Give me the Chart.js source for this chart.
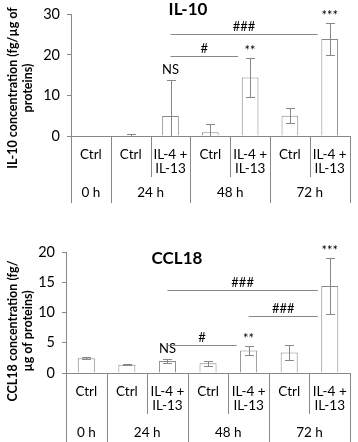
<!DOCTYPE html>
<html>
<head>
<meta charset="utf-8">
<script src="https://cdn.jsdelivr.net/npm/chart.js@4.4.1/dist/chart.umd.min.js"></script>
<style>
  html, body { margin: 0; padding: 0; background: #fff; }
  canvas { display: block; }
</style>
</head>
<body>
<canvas id="il10Chart" width="358" height="221"></canvas>
<canvas id="ccl18Chart" width="358" height="221"></canvas>
<script>
// shared categories
const categories = ["Ctrl", "Ctrl", ["IL-4 +", "IL-13"], "Ctrl", ["IL-4 +", "IL-13"], "Ctrl", ["IL-4 +", "IL-13"]];
const timeLabels = ["0 h", "24 h", "48 h", "72 h"];
const timeSpans = [1, 2, 2, 2];

// IL-10 (fg/µg of proteins)
const il10Values = [0.05, 0.2, 4.9, 0.9, 14.4, 5.0, 23.9];
const il10Errors = [0, 0.4, 9.0, 2.0, 4.8, 1.9, 4.0];
const il10Marks = ["", "", "NS", "", "**", "", "***"];
const il10BracketFrom = [2, 2];
const il10BracketTo = [4, 6];
const il10BracketLevel = [19.7, 25.2];
const il10BracketText = ["#", "###"];

// CCL18 (fg/µg of proteins)
const ccl18Values = [2.45, 1.35, 2.0, 1.6, 3.7, 3.4, 14.4];
const ccl18Errors = [0.2, 0.1, 0.35, 0.4, 0.75, 1.25, 4.6];
const ccl18Marks = ["", "", "NS", "", "**", "", "***"];
const ccl18BracketFrom = [2, 2, 4];
const ccl18BracketTo = [4, 6, 6];
const ccl18BracketLevel = [4.6, 13.8, 9.5];
const ccl18BracketText = ["#", "###", "###"];

const GRAY = "#888888";

Chart.defaults.font.family = "Lato";
Chart.defaults.color = "#000";

const decorPlugin = {
  id: "decor",
  afterDatasetsDraw(chart, args, o) {
    const {ctx, chartArea} = chart;
    const x = chart.scales.x;
    const y = chart.scales.y;
    const meta = chart.getDatasetMeta(0);
    const crisp = v => Math.round(v) + 0.5;

    ctx.save();
    ctx.strokeStyle = GRAY;
    ctx.lineWidth = 1;

    // error bars
    meta.data.forEach((bar, i) => {
      const v = o.values[i], e = o.errors[i];
      if (!e) return;
      const bx = crisp(bar.x);
      const top = crisp(y.getPixelForValue(v + e));
      const low = v - e;
      const bottom = crisp(y.getPixelForValue(Math.max(low, 0)));
      ctx.beginPath();
      ctx.moveTo(bx, top);
      ctx.lineTo(bx, bottom);
      ctx.moveTo(bx - 4.5, top);
      ctx.lineTo(bx + 4.5, top);
      if (low > 0) {
        ctx.moveTo(bx - 4.5, bottom);
        ctx.lineTo(bx + 4.5, bottom);
      }
      ctx.stroke();
    });

    ctx.fillStyle = "#000";
    ctx.font = "13px Lato";
    ctx.textAlign = "center";
    ctx.textBaseline = "alphabetic";

    // significance marks above bars
    meta.data.forEach((bar, i) => {
      const m = o.marks[i];
      if (!m) return;
      const top = y.getPixelForValue(o.values[i] + o.errors[i]);
      const isStar = m.indexOf("*") >= 0;
      ctx.fillText(m, bar.x, top - (isStar ? 3 : 6));
    });

    // comparison lines
    o.bracketFrom.forEach((from, k) => {
      const x1 = x.getPixelForValue(from);
      const x2 = x.getPixelForValue(o.bracketTo[k]) - 12;
      const ly = crisp(y.getPixelForValue(o.bracketLevel[k]));
      ctx.beginPath();
      ctx.moveTo(x1, ly);
      ctx.lineTo(x2, ly);
      ctx.stroke();
      ctx.fillText(o.bracketText[k], (x1 + x2) / 2, ly - 4);
    });

    // multi-level category table lines
    const base = chartArea.bottom;
    const longStops = [0];
    timeSpans.reduce((acc, n) => { longStops.push(acc + n); return acc + n; }, 0);
    for (let k = 0; k <= categories.length; k++) {
      const px = crisp(x.getPixelForValue(k - 0.5));
      const depth = longStops.includes(k) ? o.tableDepth : o.rowDepth;
      ctx.beginPath();
      ctx.moveTo(px, base);
      ctx.lineTo(px, base + depth);
      ctx.stroke();
    }

    // time group labels
    ctx.font = "13.5px Lato";
    ctx.textBaseline = "middle";
    timeLabels.forEach((t, g) => {
      const a = x.getPixelForValue(longStops[g] - 0.5);
      const b = x.getPixelForValue(longStops[g + 1] - 0.5);
      ctx.fillText(t, (a + b) / 2, base + o.groupDrop);
    });

    // chart title
    ctx.font = "bold 17px Lato";
    ctx.fillText(o.title, o.titleX, o.titleY);

    // rotated y-axis title
    ctx.font = "bold 12.5px Lato";
    o.yTitle.forEach((line, k) => {
      ctx.save();
      ctx.translate(o.yTitleX[k], o.yTitleY);
      ctx.rotate(-Math.PI / 2);
      ctx.fillText(line, 0, 0);
      ctx.restore();
    });

    ctx.restore();
  }
};

function makeChart(canvasId, values, errors, settings) {
  const canvas = document.getElementById(canvasId);
  const area = settings.area;
  return new Chart(canvas, {
    type: "bar",
    data: {
      labels: categories,
      datasets: [{
        data: values,
        backgroundColor: "#ffffff",
        borderColor: GRAY,
        borderWidth: 1,
        barPercentage: 0.42,
        categoryPercentage: 1.0
      }]
    },
    options: {
      responsive: false,
      animation: false,
      layout: {
        padding: { top: area.top, right: canvas.width - area.right, left: 0, bottom: 0 }
      },
      scales: {
        x: {
          grid: { display: true, drawOnChartArea: false, drawTicks: false },
          border: { color: GRAY },
          ticks: {
            padding: 11,
            maxRotation: 0,
            autoSkip: false,
            font: { size: 13.5, lineHeight: "14.5px" }
          },
          afterFit(scale) { scale.height = canvas.height - area.bottom; }
        },
        y: {
          min: 0,
          max: settings.yMax,
          ticks: {
            stepSize: settings.step,
            padding: 7,
            font: { size: 14.5, lineHeight: 1 }
          },
          grid: { drawOnChartArea: false, drawTicks: true, tickLength: 4, color: GRAY },
          border: { color: GRAY },
          afterFit(scale) { scale.width = area.left; }
        }
      },
      plugins: {
        legend: { display: false },
        tooltip: { enabled: false },
        decor: settings.decor
      }
    },
    plugins: [decorPlugin]
  });
}

makeChart("il10Chart", il10Values, il10Errors, {
  area: { left: 71, right: 353, top: 7, bottom: 136 },
  yMax: 30,
  step: 10,
  decor: {
    values: il10Values,
    errors: il10Errors,
    marks: il10Marks,
    bracketFrom: il10BracketFrom,
    bracketTo: il10BracketTo,
    bracketLevel: il10BracketLevel,
    bracketText: il10BracketText,
    rowDepth: 41,
    tableDepth: 67,
    groupDrop: 57,
    title: "IL-10",
    titleX: 188,
    titleY: 10,
    yTitle: ["IL-10 concentration (fg/µg of", "proteins)"],
    yTitleX: [13, 28],
    yTitleY: 88
  }
});

makeChart("ccl18Chart", ccl18Values, ccl18Errors, {
  area: { left: 66, right: 354, top: 31, bottom: 152 },
  yMax: 20,
  step: 5,
  decor: {
    values: ccl18Values,
    errors: ccl18Errors,
    marks: ccl18Marks,
    bracketFrom: ccl18BracketFrom,
    bracketTo: ccl18BracketTo,
    bracketLevel: ccl18BracketLevel,
    bracketText: ccl18BracketText,
    rowDepth: 41,
    tableDepth: 70,
    groupDrop: 60,
    title: "CCL18",
    titleX: 177,
    titleY: 38,
    yTitle: ["CCL18 concentration (fg/", "µg of proteins)"],
    yTitleX: [13, 28],
    yTitleY: 110
  }
});
</script>
</body>
</html>
